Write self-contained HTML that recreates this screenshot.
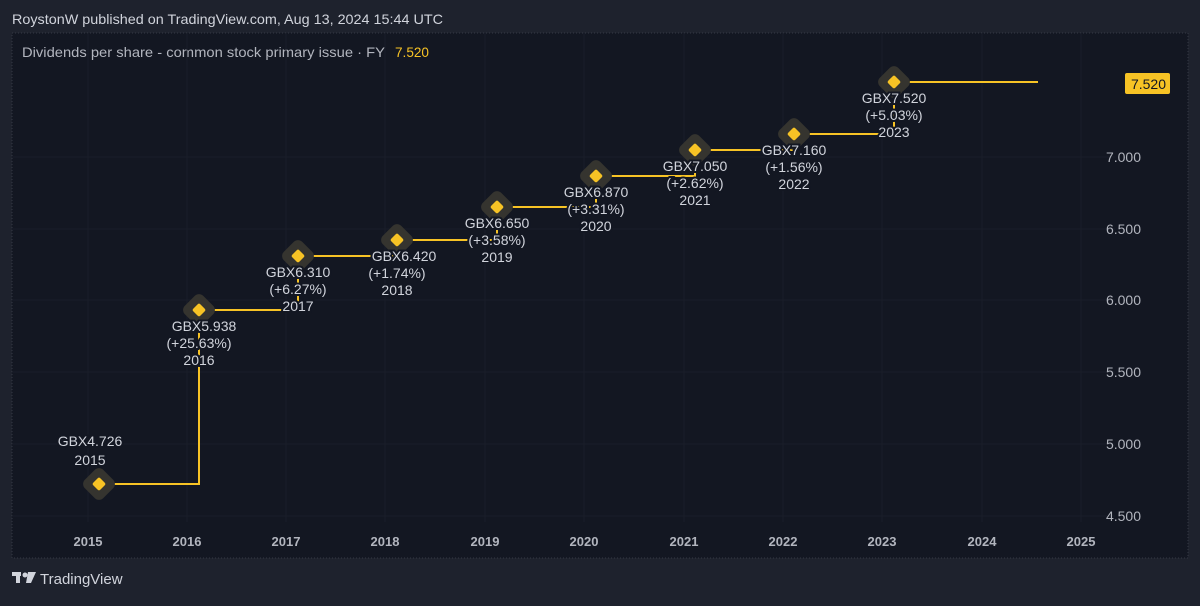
<!DOCTYPE html><html><head><meta charset="utf-8"><style>
body{margin:0;width:1200px;height:601px;background:#1e222d;overflow:hidden;font-family:"Liberation Sans",sans-serif}
</style></head><body>
<svg width="1200" height="601" xmlns="http://www.w3.org/2000/svg" font-family="Liberation Sans, sans-serif">
<rect width="1200" height="601" fill="#1e222d"/>
<rect x="12" y="33" width="1176" height="525" fill="#131722" stroke="#363a45" stroke-dasharray="1 2"/>
<text x="12" y="24" fill="#d1d4dc" font-size="14" textLength="431" lengthAdjust="spacingAndGlyphs">RoystonW published on TradingView.com, Aug 13, 2024 15:44 UTC</text>
<text x="22" y="57" fill="#b2b5be" font-size="14" textLength="363" lengthAdjust="spacingAndGlyphs">Dividends per share - common stock primary issue · FY</text>
<text x="395" y="57" fill="#f7c325" font-size="14" textLength="34" lengthAdjust="spacingAndGlyphs">7.520</text>
<g stroke="#1a1e29" stroke-width="1">
<line x1="12" x2="1115" y1="516" y2="516"/><line x1="12" x2="1115" y1="444" y2="444"/><line x1="12" x2="1115" y1="372" y2="372"/><line x1="12" x2="1115" y1="300" y2="300"/><line x1="12" x2="1115" y1="229" y2="229"/><line x1="12" x2="1115" y1="157" y2="157"/>
<line x1="88" x2="88" y1="33" y2="522"/><line x1="187" x2="187" y1="33" y2="522"/><line x1="286" x2="286" y1="33" y2="522"/><line x1="385" x2="385" y1="33" y2="522"/><line x1="485" x2="485" y1="33" y2="522"/><line x1="584" x2="584" y1="33" y2="522"/><line x1="684" x2="684" y1="33" y2="522"/><line x1="783" x2="783" y1="33" y2="522"/><line x1="882" x2="882" y1="33" y2="522"/><line x1="982" x2="982" y1="33" y2="522"/><line x1="1081" x2="1081" y1="33" y2="522"/>
</g>
<g fill="#b2b5be" font-size="14" text-anchor="end">
<text x="1141" y="521">4.500</text><text x="1141" y="449">5.000</text><text x="1141" y="377">5.500</text><text x="1141" y="305">6.000</text><text x="1141" y="234">6.500</text><text x="1141" y="162">7.000</text>
</g>
<g fill="#b2b5be" font-size="13" font-weight="bold" text-anchor="middle">
<text x="88" y="546">2015</text><text x="187" y="546">2016</text><text x="286" y="546">2017</text><text x="385" y="546">2018</text><text x="485" y="546">2019</text><text x="584" y="546">2020</text><text x="684" y="546">2021</text><text x="783" y="546">2022</text><text x="882" y="546">2023</text><text x="982" y="546">2024</text><text x="1081" y="546">2025</text>
</g>
<rect x="1125" y="73" width="45" height="21" rx="2" fill="#f7c325"/>
<text x="1166" y="89" fill="#131722" font-size="14" text-anchor="end">7.520</text>
<polyline fill="none" stroke="#f7c325" stroke-width="2" points="99,484 199,484 199,310 298,310 298,256 397,256 397,240 497,240 497,207 596,207 596,176 695,176 695,150 794,150 794,134 894,134 894,82 1038,82"/>
<g fill="#35342f">
<rect x="86" y="471" width="26" height="26" rx="6" transform="rotate(45 99 484)"/>
<rect x="186" y="297" width="26" height="26" rx="6" transform="rotate(45 199 310)"/>
<rect x="285" y="243" width="26" height="26" rx="6" transform="rotate(45 298 256)"/>
<rect x="384" y="227" width="26" height="26" rx="6" transform="rotate(45 397 240)"/>
<rect x="484" y="194" width="26" height="26" rx="6" transform="rotate(45 497 207)"/>
<rect x="583" y="163" width="26" height="26" rx="6" transform="rotate(45 596 176)"/>
<rect x="682" y="137" width="26" height="26" rx="6" transform="rotate(45 695 150)"/>
<rect x="781" y="121" width="26" height="26" rx="6" transform="rotate(45 794 134)"/>
<rect x="881" y="69" width="26" height="26" rx="6" transform="rotate(45 894 82)"/>
</g>
<g fill="#f7c325">
<rect x="94" y="479" width="10" height="10" rx="2" transform="rotate(45 99 484)"/>
<rect x="194" y="305" width="10" height="10" rx="2" transform="rotate(45 199 310)"/>
<rect x="293" y="251" width="10" height="10" rx="2" transform="rotate(45 298 256)"/>
<rect x="392" y="235" width="10" height="10" rx="2" transform="rotate(45 397 240)"/>
<rect x="492" y="202" width="10" height="10" rx="2" transform="rotate(45 497 207)"/>
<rect x="591" y="171" width="10" height="10" rx="2" transform="rotate(45 596 176)"/>
<rect x="690" y="145" width="10" height="10" rx="2" transform="rotate(45 695 150)"/>
<rect x="789" y="129" width="10" height="10" rx="2" transform="rotate(45 794 134)"/>
<rect x="889" y="77" width="10" height="10" rx="2" transform="rotate(45 894 82)"/>
</g>
<g fill="#d1d4dc" font-size="14" text-anchor="middle" stroke="#131722" stroke-width="4" paint-order="stroke">
<text x="90" y="446">GBX4.726</text><text x="90" y="465">2015</text>
<text x="204" y="331">GBX5.938</text><text x="199" y="348">(+25.63%)</text><text x="199" y="365">2016</text>
<text x="298" y="277">GBX6.310</text><text x="298" y="294">(+6.27%)</text><text x="298" y="311">2017</text>
<text x="404" y="261">GBX6.420</text><text x="397" y="278">(+1.74%)</text><text x="397" y="295">2018</text>
<text x="497" y="228">GBX6.650</text><text x="497" y="245">(+3.58%)</text><text x="497" y="262">2019</text>
<text x="596" y="197">GBX6.870</text><text x="596" y="214">(+3.31%)</text><text x="596" y="231">2020</text>
<text x="695" y="171">GBX7.050</text><text x="695" y="188">(+2.62%)</text><text x="695" y="205">2021</text>
<text x="794" y="155">GBX7.160</text><text x="794" y="172">(+1.56%)</text><text x="794" y="189">2022</text>
<text x="894" y="103">GBX7.520</text><text x="894" y="120">(+5.03%)</text><text x="894" y="137">2023</text>
</g>
<g fill="#d1d4dc">
<rect x="12" y="572" width="9" height="4"/><rect x="16" y="572" width="4" height="11"/>
<circle cx="25" cy="575" r="2.5"/><polygon points="28,572 36,572 31,583 26,583"/>
</g>
<text x="40" y="584" fill="#d1d4dc" font-size="15">TradingView</text>
</svg>
</body></html>
